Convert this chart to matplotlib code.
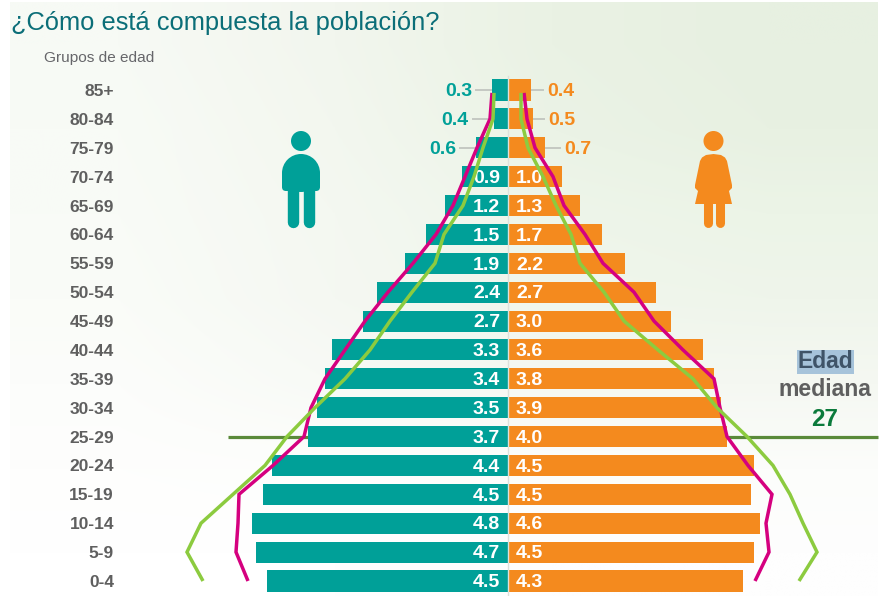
import numpy as np
import matplotlib
matplotlib.use('Agg')
import matplotlib.pyplot as plt
from matplotlib.colors import to_rgb
from matplotlib.patches import Circle, Polygon, Ellipse, FancyBboxPatch

plt.rcParams['font.family'] = ['Liberation Sans', 'DejaVu Sans']

##DATA (top of the pyramid first)

age_groups = ['85+', '80-84', '75-79', '70-74', '65-69', '60-64', '55-59', '50-54', '45-49',
              '40-44', '35-39', '30-34', '25-29', '20-24', '15-19', '10-14', '5-9', '0-4']
men_labels = ['0.3', '0.4', '0.6', '0.9', '1.2', '1.5', '1.9', '2.4', '2.7',
              '3.3', '3.4', '3.5', '3.7', '4.4', '4.5', '4.8', '4.7', '4.5']
women_labels = ['0.4', '0.5', '0.7', '1.0', '1.3', '1.7', '2.2', '2.7', '3.0',
                '3.6', '3.8', '3.9', '4.0', '4.5', '4.5', '4.6', '4.5', '4.3']

#drawn length of the bars, the picture does not scale them exactly with the labels
men_bars = [16, 14, 32, 46, 63, 82, 103, 131, 145, 176, 183, 191, 200, 236, 245, 256, 252, 241]
women_bars = [23, 25, 37, 54, 72, 94, 117, 148, 163, 195, 206, 213, 219, 246, 243, 252, 246, 235]

#outline lines, same units as the bars
pink_men = [16, 18, 31, 43, 55, 72, 95, 120, 143, 163, 183, 197, 204, 235, 269, 270, 272, 260]
pink_women = [16, 19, 27, 45, 56, 77, 95, 126, 146, 175, 206, 212, 219, 240, 264, 258, 261, 247]
green_men = [14, 15, 25, 34, 45, 64, 73, 96, 118, 138, 163, 193, 221, 243, 275, 307, 321, 305]
green_women = [13, 13, 20, 35, 48, 63, 72, 96, 116, 150, 185, 209, 239, 265, 282, 295, 309, 291]

TEAL = '#00A098'
ORANGE = '#F48A1E'
PINK = '#D5007F'
GREEN = '#8CCB3F'
GREY = '#5F5F5F'

outside = 3  #the first three groups carry the label outside the bar
men_label_x = [36, 40, 52]
women_label_x = [39, 40, 56]
men_lead = [(16, 32), (14, 35), (32, 48)]
women_lead = [(23, 35), (25, 36), (37, 52)]

##FIGURE

fig = plt.figure(figsize=(8.82, 5.96), dpi=100)

#background layer in pixel coordinates
bg = fig.add_axes([0, 0, 1, 1], zorder=0)
bg.set_xlim(0, 882)
bg.set_ylim(596, 0)
bg.axis('off')
bg_colors = [['#F7FAF5', '#F2F6EE', '#EAF2E4', '#E7F0E1'],
             ['#F8FBF6', '#F3F7EF', '#EBF3E6', '#E8F1E2'],
             ['#F9FBF7', '#F4F8F1', '#EEF5EA', '#ECF4E7'],
             ['#FAFCF8', '#F5F8F2', '#F0F6EC', '#EFF5EB'],
             ['#FCFDFB', '#F8FAF6', '#F5F8F2', '#F5F8F2'],
             ['#FEFEFD', '#FDFEFC', '#FCFDFB', '#FCFDFB'],
             ['#FFFFFF', '#FFFFFF', '#FEFEFE', '#FEFEFE']]
bg.imshow([[to_rgb(c) for c in row] for row in bg_colors], extent=(10, 878, 596, 2),
          aspect='auto', interpolation='bilinear')
bg.set_xlim(0, 882)
bg.set_ylim(596, 0)
bg.plot([228, 878], [437, 437], color='#5A8A3A', lw=2.3, solid_capstyle='butt')

#main pyramid, x is the distance from the centre line
ax = fig.add_axes([0, 0, 1, 1], zorder=1)
ax.patch.set_alpha(0)
ax.set_xlim(-508, 374)
ax.set_ylim(17.52, -3.116)
ax.axis('off')

pos = np.arange(len(age_groups))
ax.barh(pos, -np.array(men_bars), height=0.73, color=TEAL, edgecolor='none', zorder=2)
ax.barh(pos, women_bars, height=0.73, color=ORANGE, edgecolor='none', zorder=2)
ax.plot([0, 0], [-0.5, 17.52], color='#DDE1DB', lw=1, zorder=2.5)

label_shift = 0.06
for i in range(len(age_groups)):
    y = i + label_shift
    if i < outside:
        ax.plot([-men_lead[i][1], -men_lead[i][0]], [i, i], color='#C4C8C2', lw=1.4, zorder=1)
        ax.plot(women_lead[i], [i, i], color='#C4C8C2', lw=1.4, zorder=1)
        ax.text(-men_label_x[i], y, men_labels[i], color=TEAL, fontsize=14, fontweight='bold',
                ha='right', va='center', zorder=3)
        ax.text(women_label_x[i], y, women_labels[i], color=ORANGE, fontsize=14, fontweight='bold',
                ha='left', va='center', zorder=3)
    else:
        ax.text(-8, y, men_labels[i], color='white', fontsize=14, fontweight='bold',
                ha='right', va='center', zorder=3)
        ax.text(8, y, women_labels[i], color='white', fontsize=14, fontweight='bold',
                ha='left', va='center', zorder=3)

line_pos = pos.astype(float)
line_pos[0] = 0.1
for vals, sign, col in [(pink_men, -1, PINK), (pink_women, 1, PINK),
                        (green_men, -1, GREEN), (green_women, 1, GREEN)]:
    ax.plot(sign * np.array(vals), line_pos, color=col, lw=2.5, solid_capstyle='butt',
            solid_joinstyle='miter', zorder=4)

#texts and icons, in pixel coordinates
top = fig.add_axes([0, 0, 1, 1], zorder=2)
top.patch.set_alpha(0)
top.set_xlim(0, 882)
top.set_ylim(596, 0)
top.axis('off')

top.text(11, 30, '¿Cómo está compuesta la población?', color='#0B6E78', fontsize=18.4, va='baseline')
top.text(44.5, 62, 'Grupos de edad', color='#66666A', fontsize=11.1, va='baseline')

for i, lab in enumerate(age_groups):
    top.text(114, 91.5 + 28.88 * i, lab, color=GREY, fontsize=12.5, fontweight='bold',
             ha='right', va='center')

top.text(825, 362, 'Edad', color='#3F5468', fontsize=16.5, fontweight='bold', ha='center', va='center',
         bbox=dict(facecolor='#A6C3DA', edgecolor='none', pad=0.5))
top.text(825.5, 390, 'mediana', color=GREY, fontsize=16.6, fontweight='bold', ha='center', va='center')
top.text(825, 419, '27', color='#0B7A3B', fontsize=17.5, fontweight='bold', ha='center', va='center')

#man
top.add_patch(Circle((301, 141), 10, color=TEAL, lw=0))
top.add_patch(Ellipse((301, 173), 38, 38, color=TEAL, lw=0))
top.add_patch(FancyBboxPatch((284, 173), 34, 16, boxstyle='round,pad=2,rounding_size=4', color=TEAL, lw=0))
for x in [292.5, 309]:
    top.plot([x, x], [188, 221.5], color=TEAL, lw=8.2, solid_capstyle='round')

#woman
top.add_patch(Circle((713.5, 141), 10, color=ORANGE, lw=0))
top.add_patch(Polygon([(713.5, 154), (706, 155), (702, 157.5), (700, 161), (695, 185), (695, 188), (698, 191),
                       (695, 204), (732, 204), (729, 191), (732, 188), (732, 185), (727, 161),
                       (725, 157.5), (721, 155)], closed=True, color=ORANGE, lw=0))
for x in [708, 719.5]:
    top.plot([x, x], [200, 222.5], color=ORANGE, lw=6.5, solid_capstyle='round')

fig.savefig('out.png', dpi=100)
